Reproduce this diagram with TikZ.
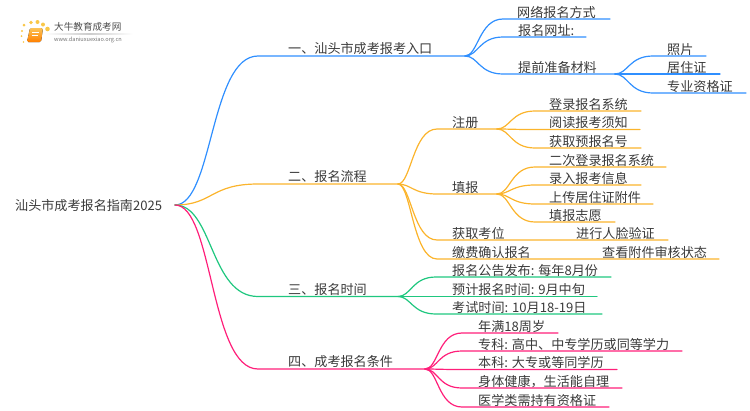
\documentclass[tikz,border=0pt]{standalone}
\usepackage{fontspec}
\setmainfont{Noto Sans CJK SC}
\definecolor{brblue}{HTML}{2F8FFF}
\definecolor{brorange}{HTML}{FBB42C}
\definecolor{brgreen}{HTML}{1FC77F}
\definecolor{brpink}{HTML}{FF1F7A}
\definecolor{inkgray}{HTML}{3A3A3A}
\definecolor{sundot}{HTML}{F9C748}
\tikzset{
  lbl/.style={anchor=west,inner sep=0pt,text height=11pt,text depth=1pt,text=inkgray,font=\fontsize{13.1}{15}\selectfont},
  link/.style={line width=1.2pt,line cap=round},
  low/.style={to path={.. controls +(13,0) and +(-24,0) .. (\tikztotarget)}},
  top/.style={to path={.. controls +(38,0) and +(-48,0) .. (\tikztotarget)}}
}
\begin{document}
\begin{tikzpicture}[x=1pt,y=-1pt]
 \useasboundingbox (0,0) rectangle (750,410);
 % logo
 \foreach \x/\y/\r in {24/25/1.5,31/22.5/1.9,37.5/22/2,43/24.5/2,47.5/29/2.3,22/31/1.2,21.5/36/1,23.5/42/0.8}
   \fill[sundot] (\x,\y) circle (\r);
 \fill[rounded corners=1.5pt,top color=brorange!80,bottom color=orange] (30,28)--(43,28)--(41,42)--(27,42)--cycle;
 \draw[white,line width=0.7pt] (32,32)--(39,32) (31.5,35)--(38,35);
 \shade[left color=white,right color=white,middle color=black!20] (45,33) rectangle (133,34);
 \node[lbl,text=black!70,text height=8pt,font=\fontsize{9.6}{11}\selectfont] (logoname) at (54,27) {大牛教育成考网};
 \node[lbl,text=black!55,text height=5pt,font=\fontsize{5.6}{7}\selectfont] (logourl) at (54,39) {www.daniuxuexiao.org.cn};
 % root
 \node[lbl] (root) at (15,205) {汕头市成考报名指南2025};
 \coordinate (hub) at (175,205);
 % main branches
 \foreach \n/\col/\y/\xe/\txt in {entry/brblue/56/465/一、汕头市成考报考入口,
   flow/brorange/184/398/二、报名流程,
   period/brgreen/296.5/398/三、报名时间,
   terms/brpink/369/425/四、成考报名条件}{
   \node[lbl] (\n) at (288,\y-7.5) {\txt};
   \coordinate (\n a) at (258,\y);
   \coordinate (\n b) at (\xe,\y);
   \draw[link,\col] (hub) to[top] (\n a)--(\n b);
 }
 % second level
 \foreach \n/\src/\col/\xb/\xt/\y/\xe/\txt in {
   wayweb/entryb/brblue/503/517/19/610/网络报名方式,
   wayurl/entryb/brblue/503/518/37/586/报名网址:,
   prep/entryb/brblue/503/518/74/615/提前准备材料,
   signup/flowb/brorange/437/452/129/497/注册,
   fillin/flowb/brorange/437/452/194/497/填报,
   seat/flowb/brorange/437/452/240/668/获取考位,
   payfee/flowb/brorange/437/452/259/719/缴费确认报名,
   notice/periodb/brgreen/436/452/277/611/报名公告发布: 每年8月份,
   expect/periodb/brgreen/436/452/296.5/597/预计报名时间: 9月中旬,
   examday/periodb/brgreen/436/452/314/602/考试时间: 10月18-19日,
   age/termsb/brpink/462/478/333/558/年满18周岁,
   junior/termsb/brpink/462/478/351/682/专科: 高中、中专学历或同等学力,
   senior/termsb/brpink/462/478/369.5/617/本科: 大专或等同学历,
   health/termsb/brpink/462/478/388/622/身体健康，生活能自理,
   medic/termsb/brpink/462/478/407/609/医学类需持有资格证}{
   \node[lbl] (\n) at (\xt,\y-7) {\txt};
   \coordinate (\n a) at (\xb,\y);
   \coordinate (\n b) at (\xe,\y);
   \draw[link,\col] (\src) to[low] (\n a)--(\n b);
 }
 \node[lbl] (faceid) at (576,233) {进行人脸验证};
 \node[lbl] (review) at (602,252) {查看附件审核状态};
 % third level
 \foreach \n/\src/\col/\xb/\xt/\y/\xe/\txt in {
   photo/prepb/brblue/653/667/56/706/照片,
   permit/prepb/brblue/653/667/74/720/居住证,
   cert/prepb/brblue/653/667/93/746/专业资格证,
   login/signupb/brorange/535/549/111/641/登录报名系统,
   readme/signupb/brorange/535/549/129.5/640/阅读报考须知,
   prenum/signupb/brorange/535/549/148/641/获取预报名号,
   relogin/fillinb/brorange/535/549/167/666/二次登录报名系统,
   record/fillinb/brorange/535/549/185/641/录入报考信息,
   upload/fillinb/brorange/535/549/204/653/上传居住证附件,
   wish/fillinb/brorange/535/549/222/615/填报志愿}{
   \node[lbl] (\n) at (\xt,\y-7) {\txt};
   \coordinate (\n a) at (\xb,\y);
   \coordinate (\n b) at (\xe,\y);
   \draw[link,\col] (\src) to[low] (\n a)--(\n b);
 }
\end{tikzpicture}
\end{document}
